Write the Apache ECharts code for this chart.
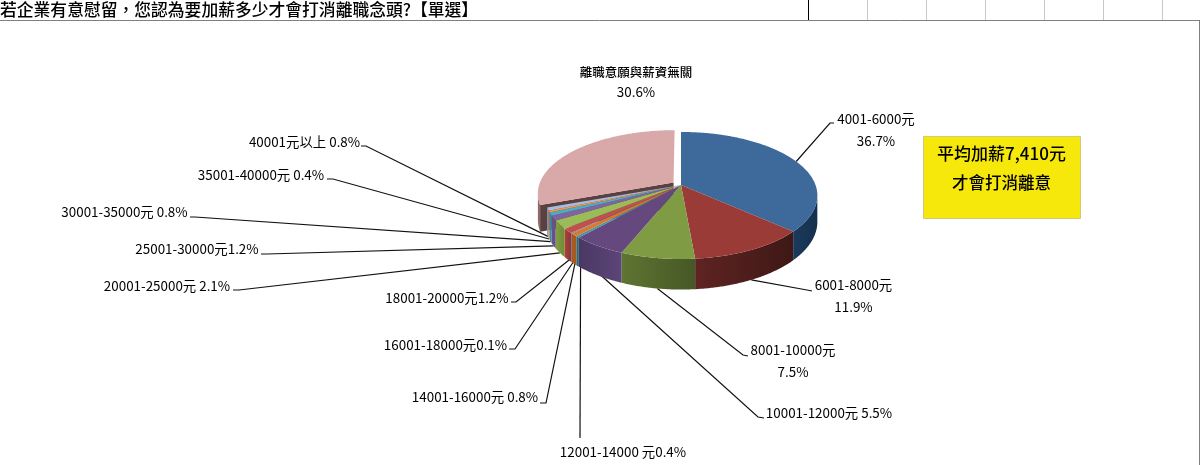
<!DOCTYPE html>
<html lang="zh-Hant"><head><meta charset="utf-8">
<style>html,body{margin:0;padding:0;background:#fff}#c{width:1200px;height:465px}</style>
<script src="https://cdn.jsdelivr.net/npm/echarts@6/dist/echarts.min.js"></script>
</head><body><div id="c"></div>
<script>
var titleText = '若企業有意慰留，您認為要加薪多少才會打消離職念頭?【單選】';
var categories = ['4001-6000元','6001-8000元','8001-10000元','10001-12000元','12001-14000 元','14001-16000元','16001-18000元','18001-20000元','20001-25000元','25001-30000元','30001-35000元','35001-40000元','40001元以上','離職意願與薪資無關'];
var values = [36.7,11.9,7.5,5.5,0.4,0.8,0.1,1.2,2.1,1.2,0.8,0.4,0.8,30.6];
var labelLines = [
 ['4001-6000元','36.7%'],['6001-8000元','11.9%'],['8001-10000元','7.5%'],['10001-12000元 5.5%'],
 ['12001-14000 元0.4%'],['14001-16000元 0.8%'],['16001-18000元0.1%'],['18001-20000元1.2%'],
 ['20001-25000元 2.1%'],['25001-30000元1.2%'],['30001-35000元 0.8%'],['35001-40000元 0.4%'],
 ['40001元以上 0.8%'],['離職意願與薪資無關','30.6%']];
var colors = ['#3D6A9B','#9A3B38','#7F9C44','#65497E','#3E96AE','#D9792C','#4F81BD','#C0504D','#9BBB59','#8064A2','#4BACC6','#F79646','#A9BCDB','#D9A8A8'];
var wallColors = [['#1B3A5C','#15304C'],['#5E2422','#3E1816'],['#5F7532','#465726'],['#4A3864','#5C4578'],['#2A6A7C','#2A6A7C'],['#A85A1E','#A85A1E'],['#345A88','#345A88'],['#B0403C','#903532'],['#83A040','#6F8A36'],['#6A5088','#6A5088'],['#3A8AA0','#3A8AA0'],['#C77A38','#C77A38'],['#8899B5','#8899B5'],['#8E6A6A','#8E6A6A']];
// label layout: text centre x, first text y, elbow and end of the leader line, start nudge
var labelLayout = [
 {x:876,y:119,e:[830,123],t:[834,123]},
 {x:853.5,y:285,e:[807,290],t:[812,291]},
 {x:793,y:350,e:[743,355],t:[748,356]},
 {x:829,y:413,e:[758,417],t:[764,418],dx:3},
 {x:623,y:452,e:[580,438],t:[580,438],dx:3},
 {x:475,y:397,e:[546,403],t:[540,403],dx:1},
 {x:445.5,y:345,e:[515,349],t:[509,349],dx:2},
 {x:447,y:298,e:[516,302],t:[511,302],dx:2},
 {x:167,y:285.5,e:[239,290],t:[233,290]},
 {x:197,y:249,e:[267,254],t:[261,254]},
 {x:124.5,y:212,e:[195,217],t:[190,217]},
 {x:261,y:175,e:[333,179],t:[327,179]},
 {x:304.5,y:142,e:[366,146],t:[361,146]},
 {x:636,y:72,noLine:true}
];
var explodedIndex = 13;
var CX=681, CY=185, RX=134.5, RY=61.8, K=0.165, D=25.5, EXPLODE=0.068, VIS0=101, VIS1=259;
var FONT='"Noto Sans CJK TC","Noto Sans",sans-serif';

function proj(deg, r, off){
  var a=deg*Math.PI/180, X=r*Math.sin(a)+off[0], Y=r*Math.cos(a)+off[1], w=1+K*Y;
  return {x:CX+RX*X/w, y:CY-RY*Y/w, d:D/w};
}
function upperPt(p){return [p.x,p.y];}
function lowerPt(p){return [p.x,p.y+p.d];}
var cums=[],run=0;values.forEach(function(v){cums.push(run);run+=v;});
var total=run;

function renderSlice(params, api){
  var i=params.dataIndex, v=api.value(0);
  var a0=cums[i]/total*360, a1=a0+v/total*360, mid=(a0+a1)/2;
  var off=[0,0], base=3;
  if(i===explodedIndex){var m=mid*Math.PI/180; off=[EXPLODE*Math.sin(m),EXPLODE*Math.cos(m)]; base=0;}
  var kids=[];
  var pts=[upperPt(proj(0,0,off))];
  for(var t=a0;t<a1;t+=0.5) pts.push(upperPt(proj(t,1,off)));
  pts.push(upperPt(proj(a1,1,off)));
  var s=Math.max(a0,VIS0), e=Math.min(a1,VIS1);
  if(e>s){
    var up=[],dn=[];
    for(var q=s;q<e;q+=0.5){var pq=proj(q,1,off);up.push(upperPt(pq));dn.unshift(lowerPt(pq));}
    var pe=proj(e,1,off);up.push(upperPt(pe));dn.unshift(lowerPt(pe));
    kids.push({type:'polygon',shape:{points:up.concat(dn)},z2:base+1,
      style:{fill:{type:'linear',x:0,y:0,x2:1,y2:0,colorStops:[{offset:0,color:wallColors[i][0]},{offset:1,color:wallColors[i][1]}]}}});
  }
  if(i===explodedIndex){
    var pa=proj(0,0,off), pb=proj(a0,1,off);
    kids.push({type:'polygon',shape:{points:[upperPt(pa),upperPt(pb),lowerPt(pb),lowerPt(pa)]},z2:1,style:{fill:'#5A403F'}});
  }
  kids.push({type:'polygon',shape:{points:pts},z2:base+2,style:{fill:colors[i]}});
  var L=labelLayout[i];
  if(!L.noLine){
    var edge=proj(mid,1,off);
    var st=(mid>VIS0&&mid<VIS1)?lowerPt(edge):upperPt(edge);
    st=[st[0]+(L.dx||0),st[1]];
    kids.push({type:'polyline',shape:{points:[st,L.e,L.t]},z2:0,style:{stroke:'#111',lineWidth:1.2,fill:null}});
  }
  var isTop=i===explodedIndex;
  labelLines[i].forEach(function(line,n){
    kids.push({type:'text',z2:10,style:{text:line,x:L.x,y:L.y+n*(isTop?20:22),align:'center',verticalAlign:'middle',fill:'#000',
      font:(isTop&&n===0?'500 12.5px ':'13.4px ')+FONT}});
  });
  return {type:'group',children:kids};
}

var chart=echarts.init(document.getElementById('c'),null,{renderer:'canvas'});
var gridXs=[867,926,985,1044,1103,1162];
var graphics=[
 {type:'line',shape:{x1:0,y1:20.5,x2:1199,y2:20.5},style:{stroke:'#808080',lineWidth:1}},
 {type:'line',shape:{x1:1199.5,y1:20,x2:1199.5,y2:465},style:{stroke:'#808080',lineWidth:1}},
 {type:'line',shape:{x1:808.5,y1:0,x2:808.5,y2:20},style:{stroke:'#000',lineWidth:1}},
 {type:'rect',shape:{x:923.5,y:136.5,width:157,height:82},style:{fill:'#F7E80B',stroke:'#CFCB7A',lineWidth:1}},
 {type:'text',style:{text:'平均加薪7,410元',x:1001.5,y:154,align:'center',verticalAlign:'middle',fill:'#000',font:'500 17px '+FONT}},
 {type:'text',style:{text:'才會打消離意',x:1001.5,y:183,align:'center',verticalAlign:'middle',fill:'#000',font:'500 16.5px '+FONT}}
];
gridXs.forEach(function(x){graphics.push({type:'line',shape:{x1:x+.5,y1:0,x2:x+.5,y2:20},style:{stroke:'#C8C8C8',lineWidth:1}});});
chart.setOption({
  animation:false,backgroundColor:'#fff',
  title:{text:titleText,left:0,top:0,padding:0,textStyle:{fontFamily:FONT,fontSize:16.8,fontWeight:500,color:'#000',lineHeight:20}},
  graphic:graphics,
  series:[{type:'custom',coordinateSystem:'none',silent:true,renderItem:renderSlice,
    data:values.map(function(v,i){return {name:categories[i],value:[v]};})}]
});
</script></body></html>
